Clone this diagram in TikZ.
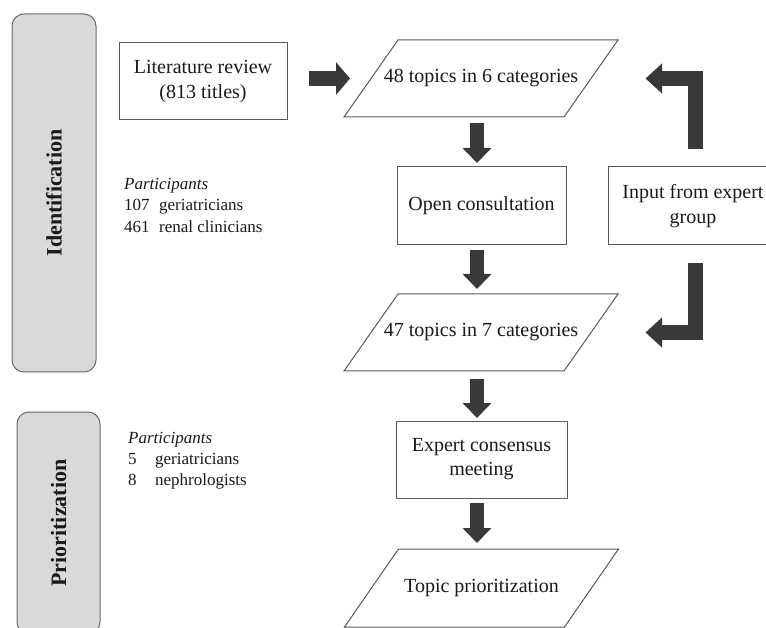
\documentclass[tikz,border=0pt]{standalone}
\usepackage{fontspec}
\setmainfont{Liberation Serif}
\usetikzlibrary{shapes.geometric,arrows.meta}
\definecolor{arrowc}{HTML}{3B3838}
\definecolor{edgec}{HTML}{5A5A5A}
\definecolor{phasefill}{HTML}{D9D9D9}
\definecolor{txt}{HTML}{1A1A1A}
\newcommand{\paraoutline}[1]{\draw[edgec, line width=1pt, line join=miter]
  ([xshift=27pt]#1.north west) -- ([xshift=27pt]#1.north east) --
  ([xshift=-27pt]#1.south east) -- ([xshift=-27pt]#1.south west) -- cycle;}
\begin{document}
\begin{tikzpicture}[x=1pt,y=-1pt,
  box/.style={draw=edgec, line width=1pt, fill=white, minimum width=168pt, minimum height=77pt,
    inner sep=2pt, outer sep=0pt, align=center, font=\fontsize{20}{25}\selectfont, text=txt},
  para/.style={rectangle, draw=none, minimum width=220pt, minimum height=77pt, inner sep=0pt,
    outer sep=0pt, align=center, font=\fontsize{20}{25}\selectfont, text=txt},
  phase/.style={draw=edgec!90, fill=phasefill, rounded corners=12pt, line width=1pt, outer sep=0pt,
    rotate=90, font=\bfseries\fontsize{22}{26}\selectfont, text=txt},
  partic/.style={anchor=north west, inner sep=0pt, align=left, text=txt},
  blk/.style={draw=arrowc, line width=14pt, -{Triangle[length=15pt,width=28pt]}},
  blkh/.style={draw=arrowc, line width=15pt, -{Triangle[length=14pt,width=32pt]}},
  elb/.style={draw=arrowc, line width=15pt, line join=miter, -{Triangle[length=16.5pt,width=29pt]}}
]
\useasboundingbox (0,0) rectangle (766,628);
\fill[white] (0,0) rectangle (766,628);

% phase labels
\node[phase, minimum width=358pt, minimum height=84pt] (ident) at (54,193) {Identification};
\node[phase, minimum width=222pt, minimum height=83pt] (prphase) at (58.5,523) {Prioritization};

% participants
\node[partic, font=\fontsize{17}{21.5}\selectfont] (part1) at (124,174)
  {\begin{tabular}{@{}p{35pt}@{}l@{}}\multicolumn{2}{@{}l@{}}{\itshape Participants}\\107 & geriatricians\\461 & renal clinicians\end{tabular}};
\node[partic, font=\fontsize{17}{21}\selectfont] (part2) at (128,429)
  {\begin{tabular}{@{}p{27pt}@{}l@{}}\multicolumn{2}{@{}l@{}}{\itshape Participants}\\5 & geriatricians\\8 & nephrologists\end{tabular}};

% flow nodes
\node[box] (lit) at (203,81.5) {Literature review\\(813 titles)};
\node[para] (t48) at (481,78.5) {48 topics in 6 categories};
\paraoutline{t48}
\node[box, minimum width=169pt, minimum height=78pt] (open) at (481.5,206) {Open consultation};
\node[box, minimum width=170pt, minimum height=78pt] (input) at (693,206) {Input from expert\\group};
\node[para] (t47) at (481,332.5) {47 topics in 7 categories};
\paraoutline{t47}
\node[box, minimum width=171pt, minimum height=77pt, font=\fontsize{20}{24}\selectfont] (meet) at (481.5,459.5) {Expert consensus\\meeting};
\node[para, minimum height=78pt] (prio) at (481.5,588) {Topic prioritization};
\paraoutline{prio}

% connectors
\draw[blkh, shorten <=22pt, shorten >=21pt] (lit.east |- t48.west) -- (t48.west);
\draw[blk, shorten <=6pt, shorten >=4pt] ([xshift=-4pt]t48.south) -- ([xshift=-4.5pt]open.north);
\draw[blk, shorten <=5pt, shorten >=5pt] ([xshift=-4.5pt]open.south) -- ([xshift=-4pt]t47.north);
\draw[blk, shorten <=8pt, shorten >=3pt] ([xshift=-4pt]t47.south) -- ([xshift=-4.5pt]meet.north);
\draw[blk, shorten <=5pt, shorten >=6pt] ([xshift=-4.5pt]meet.south) -- ([xshift=-4.5pt]prio.north);
\draw[elb, shorten <=18pt, shorten >=54.5pt] ([xshift=2.5pt]input.north) |- (t48.east);
\draw[elb, shorten <=18pt, shorten >=54.5pt] ([xshift=2.5pt]input.south) |- (t47.east);
\end{tikzpicture}
\end{document}
